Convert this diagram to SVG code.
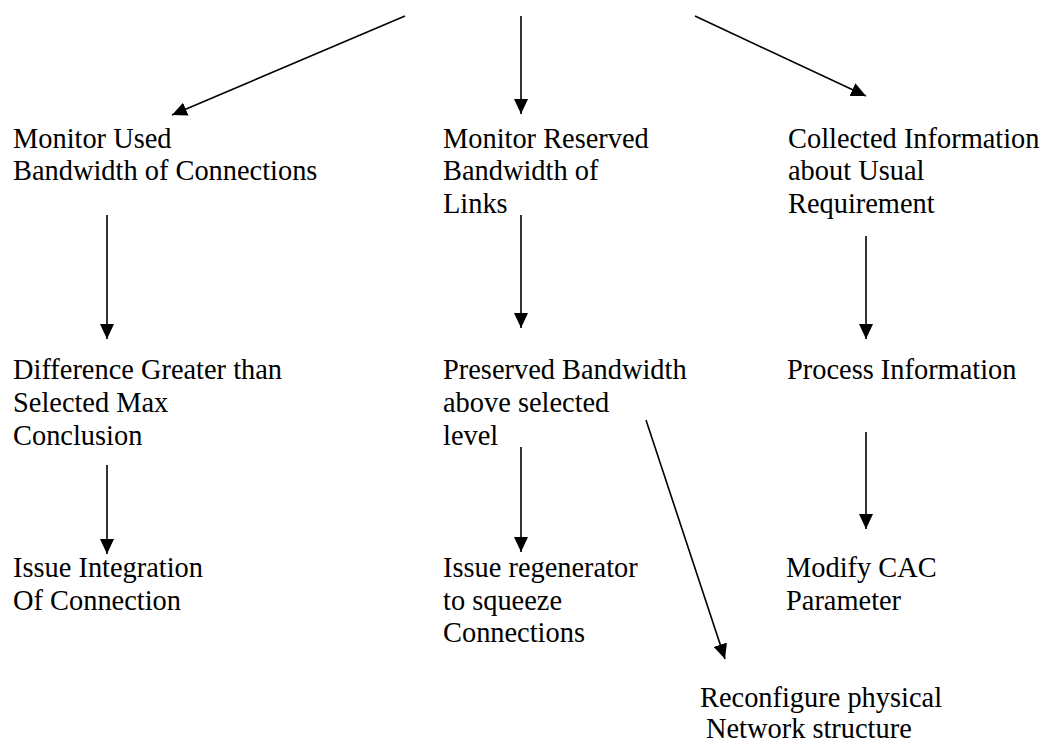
<svg xmlns="http://www.w3.org/2000/svg" width="1043" height="744" viewBox="0 0 1043 744">
<style>
.t { font-size: 28.4px; fill: #000; }
.c line { stroke: #000; stroke-width: 1.6; marker-end: url(#ah); }
</style>
<defs>
<marker id="ah" markerUnits="userSpaceOnUse" markerWidth="16" markerHeight="14" refX="15" refY="7" orient="auto">
<path d="M0,0 L15,7 L0,14 z" fill="#000"/>
</marker>
</defs>
<rect width="1043" height="744" fill="#fff"/>
<g id="connectors" class="c">
<line x1="405" y1="16" x2="172" y2="115"/>
<line x1="521" y1="16" x2="521" y2="114"/>
<line x1="695" y1="16" x2="866" y2="96"/>
<line x1="107" y1="215" x2="107" y2="339"/>
<line x1="521" y1="215" x2="521" y2="328"/>
<line x1="866" y1="236" x2="866" y2="339"/>
<line x1="107" y1="465" x2="107" y2="554"/>
<line x1="521" y1="447" x2="521" y2="552"/>
<line x1="646" y1="420" x2="725" y2="659"/>
<line x1="866" y1="432" x2="866" y2="529"/>
</g>
<g class="t" font-family="Liberation Serif, Times New Roman, serif">
<g id="n1"><text x="13" y="148">Monitor Used</text><text x="13" y="180.3">Bandwidth of Connections</text></g>
<g id="n2"><text x="443" y="148">Monitor Reserved</text><text x="443" y="180.3">Bandwidth of</text><text x="443" y="212.6">Links</text></g>
<g id="n3"><text x="788" y="148">Collected Information</text><text x="788" y="180.3">about Usual</text><text x="788" y="212.6">Requirement</text></g>
<g id="n4"><text x="13" y="379">Difference Greater than</text><text x="13" y="411.6">Selected Max</text><text x="13" y="444.6">Conclusion</text></g>
<g id="n5"><text x="443" y="379">Preserved Bandwidth</text><text x="443" y="411.6">above selected</text><text x="443" y="444.6">level</text></g>
<g id="n6"><text x="787" y="379">Process Information</text></g>
<g id="n7"><text x="13" y="577">Issue Integration</text><text x="13" y="609.6">Of Connection</text></g>
<g id="n8"><text x="443" y="577">Issue regenerator</text><text x="443" y="609.6">to squeeze</text><text x="443" y="642">Connections</text></g>
<g id="n9"><text x="786" y="577">Modify CAC</text><text x="786" y="609.6">Parameter</text></g>
<g id="n10"><text x="700" y="707">Reconfigure physical</text><text x="706" y="738">Network structure</text></g>
</g>
</svg>
